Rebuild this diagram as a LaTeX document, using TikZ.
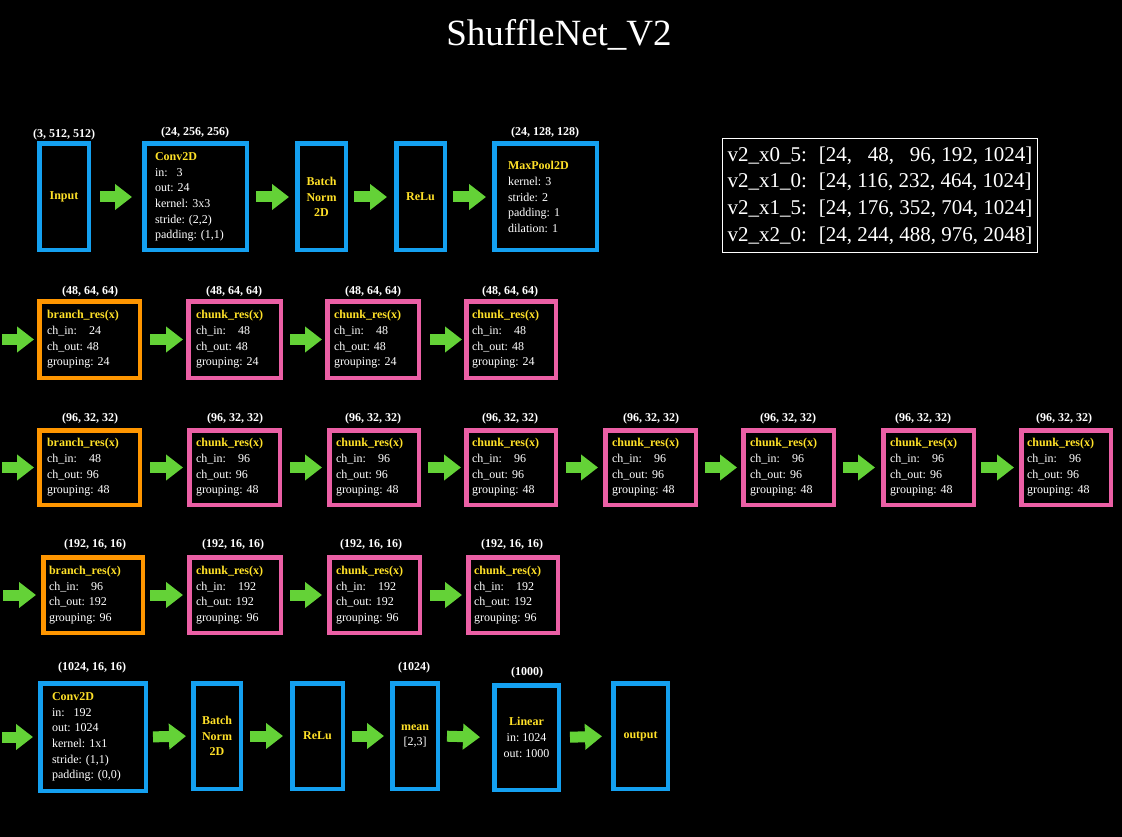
\documentclass[tikz,border=0pt]{standalone}
\usepackage{fontspec}
\setmainfont{Liberation Serif}
\usetikzlibrary{arrows.meta,calc}
\frenchspacing
\definecolor{bbl}{RGB}{20,160,240}
\definecolor{bor}{RGB}{255,150,0}
\definecolor{bpk}{RGB}{235,95,165}
\definecolor{grn}{RGB}{100,210,55}
\definecolor{ylw}{RGB}{255,225,40}
\newcommand\hd[1]{\textcolor{ylw}{\textbf{#1}}}
\newcommand\chk[3]{\hd{chunk\_res(x)}\\ch\_in:\hspace{12pt}#1\\ch\_out: #2\\grouping: #3}
\newcommand\brn[3]{\hd{branch\_res(x)}\\ch\_in:\hspace{12pt}#1\\ch\_out: #2\\grouping: #3}
\tikzset{
 box/.style={draw=#1, line width=4.5pt, fill=black, inner sep=0pt, text=white,
   font=\fontsize{12}{15.6}\selectfont\frenchspacing, align=left},
 cbox/.style={box=#1, align=center},
 dim/.style={text=white, font=\bfseries\fontsize{12}{14}\selectfont, inner sep=0pt},
 garrow/.style={draw=grn, line width=11pt, -{Triangle[width=25pt,length=17pt]}},
}
\newcommand\ga[4]{\draw[garrow, shorten <=#3pt, shorten >=#4pt] (#1.east) -- (#2.west);}
\begin{document}
\begin{tikzpicture}[x=1pt,y=-1pt]
\useasboundingbox (0,0) rectangle (1122,837);
\fill[black] (0,0) rectangle (1122,837);
\node[text=white, font=\fontsize{37}{40}\selectfont, inner sep=0pt] (title) at (559,35) {ShuffleNet\_V2};

% legend
\node[draw=white, line width=1pt, text=white, align=left, inner sep=0pt,
  minimum width=315, minimum height=114, font=\fontsize{21}{26.7}\selectfont\frenchspacing] (leg) at (880,195.5)
 {v2\_x0\_5:\hspace{12pt}[24, \phantom{0}48, \phantom{0}96, 192, 1024]\\
  v2\_x1\_0:\hspace{12pt}[24, 116, 232, 464, 1024]\\
  v2\_x1\_5:\hspace{12pt}[24, 176, 352, 704, 1024]\\
  v2\_x2\_0:\hspace{12pt}[24, 244, 488, 976, 2048]};

% row 1
\node[cbox=bbl, minimum width=49.5, minimum height=106.5] (in1) at (64,197) {\hd{Input}};
\node[box=bbl, minimum width=102.5, minimum height=106.5, text width=81] (cv1) at (195.5,197)
 {\hd{Conv2D}\\in:\hspace{9pt}3\\out: 24\\kernel: 3x3\\stride: (2,2)\\padding: (1,1)};
\node[cbox=bbl, minimum width=48.5, minimum height=106.5] (bn1) at (321.5,197) {\hd{Batch}\\\hd{Norm}\\\hd{2D}};
\node[cbox=bbl, minimum width=48.5, minimum height=106.5] (re1) at (420.5,197) {\hd{ReLu}};
\node[box=bbl, minimum width=102.5, minimum height=106.5, text width=75] (mp1) at (545.5,197)
 {\hd{MaxPool2D}\\kernel: 3\\stride: 2\\padding: 1\\dilation: 1};
\node[dim] (d11) at (64,135) {(3, 512, 512)};
\node[dim] (d12) at (195,133) {(24, 256, 256)};
\node[dim] (d15) at (545,133) {(24, 128, 128)};
\ga{in1}{cv1}{9}{10}
\ga{cv1}{bn1}{7}{6}
\ga{bn1}{re1}{6}{7}
\ga{re1}{mp1}{6}{6}

% row 2
\node[box=bor, minimum width=100.5, minimum height=76.5, text width=85] (b2) at (89.5,339.5) {\brn{24}{48}{24}};
\node[box=bpk, minimum width=92.5, minimum height=76.5, text width=77] (c2a) at (234.5,339.5) {\chk{48}{48}{24}};
\node[box=bpk, minimum width=91.5, minimum height=76.5, text width=78] (c2b) at (373,339.5) {\chk{48}{48}{24}};
\node[box=bpk, minimum width=89.5, minimum height=76.5, text width=78] (c2c) at (511,339.5) {\chk{48}{48}{24}};
\node[dim] (d21) at (90,292) {(48, 64, 64)};
\node[dim] (d22) at (234,292) {(48, 64, 64)};
\node[dim] (d23) at (373,292) {(48, 64, 64)};
\node[dim] (d24) at (510,292) {(48, 64, 64)};
\coordinate (s2) at (2,339.5);
\draw[garrow, shorten >=3pt] (s2) -- (b2.west);
\ga{b2}{c2a}{8}{3}
\ga{c2a}{c2b}{7}{3}
\ga{c2b}{c2c}{9}{2}

% row 3
\node[box=bor, minimum width=100.5, minimum height=74.5, text width=85] (b3) at (89.5,467.5) {\brn{48}{96}{48}};
\node[box=bpk, minimum width=90.5, minimum height=74.5, text width=77] (c3a) at (234.5,467.5) {\chk{96}{96}{48}};
\node[box=bpk, minimum width=89.5, minimum height=74.5, text width=76] (c3b) at (374,467.5) {\chk{96}{96}{48}};
\node[box=bpk, minimum width=89.5, minimum height=74.5, text width=78] (c3c) at (511,467.5) {\chk{96}{96}{48}};
\node[box=bpk, minimum width=90.5, minimum height=74.5, text width=77] (c3d) at (650.5,467.5) {\chk{96}{96}{48}};
\node[box=bpk, minimum width=90.5, minimum height=74.5, text width=77] (c3e) at (788.5,467.5) {\chk{96}{96}{48}};
\node[box=bpk, minimum width=90.5, minimum height=74.5, text width=77] (c3f) at (928.5,467.5) {\chk{96}{96}{48}};
\node[box=bpk, minimum width=89.5, minimum height=74.5, text width=78] (c3g) at (1066,467.5) {\chk{96}{96}{48}};
\node[dim] (d31) at (90,419) {(96, 32, 32)};
\node[dim] (d32) at (235,419) {(96, 32, 32)};
\node[dim] (d33) at (373,419) {(96, 32, 32)};
\node[dim] (d34) at (510,419) {(96, 32, 32)};
\node[dim] (d35) at (651,419) {(96, 32, 32)};
\node[dim] (d36) at (788,419) {(96, 32, 32)};
\node[dim] (d37) at (923,419) {(96, 32, 32)};
\node[dim] (d38) at (1064,419) {(96, 32, 32)};
\coordinate (s3) at (2,467.5);
\draw[garrow, shorten >=3pt] (s3) -- (b3.west);
\ga{b3}{c3a}{8}{4}
\ga{c3a}{c3b}{8}{5}
\ga{c3b}{c3c}{7}{3}
\ga{c3c}{c3d}{8}{5}
\ga{c3d}{c3e}{7}{4}
\ga{c3e}{c3f}{7}{6}
\ga{c3f}{c3g}{5}{5}

% row 4
\node[box=bor, minimum width=99.5, minimum height=75.5, text width=88] (b4) at (93,595) {\brn{96}{192}{96}};
\node[box=bpk, minimum width=91.5, minimum height=75.5, text width=78] (c4a) at (235,595) {\chk{192}{192}{96}};
\node[box=bpk, minimum width=90.5, minimum height=75.5, text width=77] (c4b) at (374.5,595) {\chk{192}{192}{96}};
\node[box=bpk, minimum width=89.5, minimum height=75.5, text width=78] (c4c) at (513,595) {\chk{192}{192}{96}};
\node[dim] (d41) at (95,545) {(192, 16, 16)};
\node[dim] (d42) at (233,545) {(192, 16, 16)};
\node[dim] (d43) at (371,545) {(192, 16, 16)};
\node[dim] (d44) at (512,545) {(192, 16, 16)};
\coordinate (s4) at (3,595);
\draw[garrow, shorten >=5pt] (s4) -- (b4.west);
\ga{b4}{c4a}{5}{4}
\ga{c4a}{c4b}{7}{5}
\ga{c4b}{c4c}{8}{4}

% row 5
\node[box=bbl, minimum width=105.5, minimum height=107.5, text width=82] (cv5) at (93,737)
 {\hd{Conv2D}\\in:\hspace{9pt}192\\out: 1024\\kernel: 1x1\\stride: (1,1)\\padding: (0,0)};
\node[cbox=bbl, minimum width=47.5, minimum height=105.5] (bn5) at (217,736) {\hd{Batch}\\\hd{Norm}\\\hd{2D}};
\node[cbox=bbl, minimum width=50.5, minimum height=105.5] (re5) at (317.5,736) {\hd{ReLu}};
\node[cbox=bbl, minimum width=45.5, minimum height=105.5] (mn5) at (415,736) {\hd{mean}\\{[2,3]}};
\node[cbox=bbl, minimum width=64.5, minimum height=104.5] (li5) at (526.5,737.5) {\hd{Linear}\\in: 1024\\out: 1000};
\node[cbox=bbl, minimum width=54.5, minimum height=105.5] (ou5) at (640.5,736) {\hd{output}};
\node[dim] (d51) at (92,668) {(1024, 16, 16)};
\node[dim] (d54) at (414,668) {(1024)};
\node[dim] (d55) at (527,673) {(1000)};
\coordinate (s5) at (2,737);
\draw[garrow, shorten >=5pt] (s5) -- (cv5.west);
\ga{cv5}{bn5}{5}{5}
\ga{bn5}{re5}{7}{7}
\ga{re5}{mn5}{7}{6}
\ga{mn5}{li5}{7}{12}
\ga{li5}{ou5}{9}{9}
\end{tikzpicture}
\end{document}
